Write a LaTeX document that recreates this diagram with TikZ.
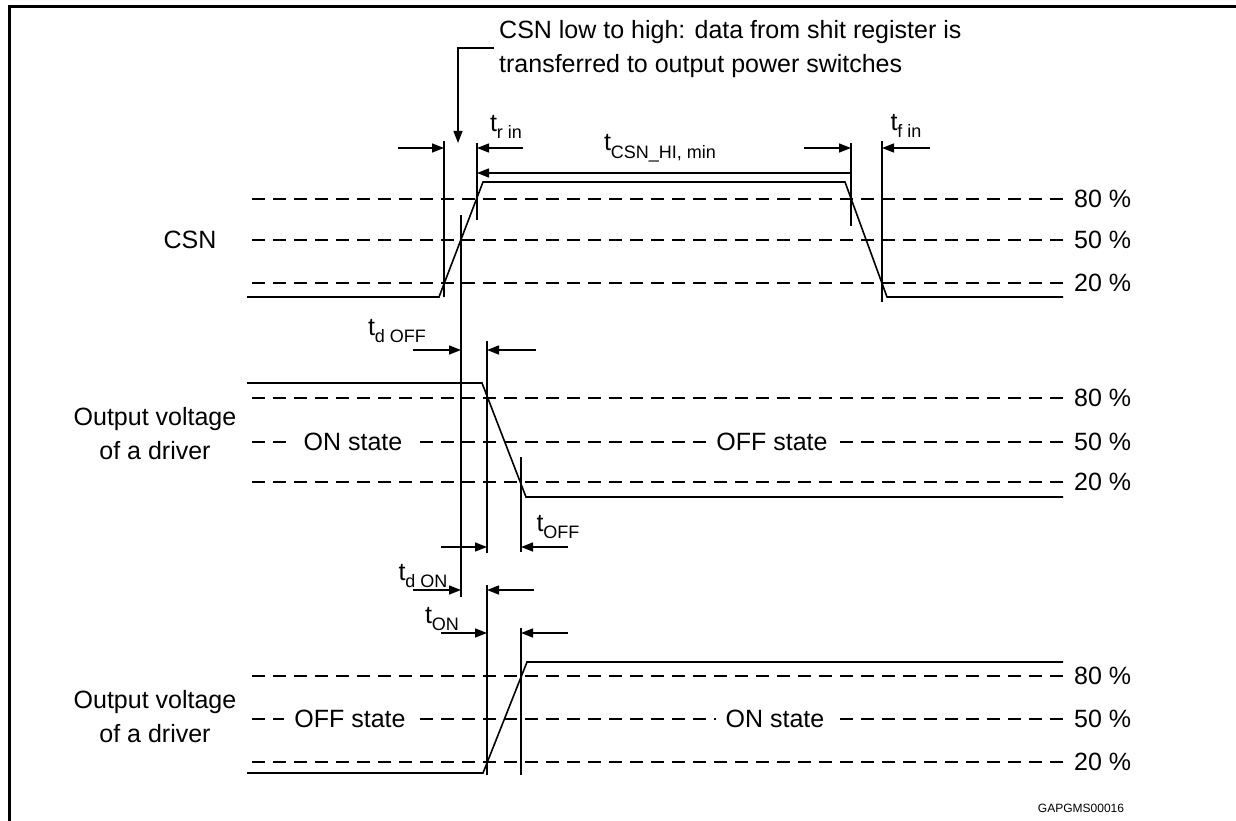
\documentclass[tikz,border=0pt]{standalone}
\usepackage{fontspec}
\setmainfont{Liberation Sans}
\usetikzlibrary{%
  arrows.meta,%
  calc%
}
\newcommand{\tsub}[2]{#1\raisebox{-0.3em}{\fontsize{18}{18}\selectfont #2}}

\begin{document}
\begin{tikzpicture}[x=1pt,y=-1pt,
  font=\fontsize{25}{34}\selectfont,
  wave/.style={line width=1.6pt},
  level/.style={line width=1.4pt,dash pattern=on 13pt off 8pt},
  edgeline/.style={line width=1.6pt},
  tip/.style={-{Triangle[length=12pt,width=9pt]},line width=1.4pt},
  pct/.style={anchor=west,inner sep=0pt},
  lbl/.style={inner sep=0pt},
  state/.style={fill=white,inner xsep=10pt,inner ysep=4pt}]
\useasboundingbox (0,0) rectangle (1236,821);

% frame
\draw[line width=3pt] (9,821) -- (9,7) -- (1236,7);

% threshold levels
\foreach \y/\p in {199/80,240/50,283/20,398/80,442/50,482/20,676/80,719/50,762/20}
  {\draw[level] (252,\y) -- (1063,\y);
   \node[pct] (p\y) at (1074,\y) {\p\ \%};}

% waveforms
\draw[wave] (247,297) -- (439,297) -- (483,182) -- (845,182) -- (887,297) -- (1063,297);
\draw[wave] (247,383) -- (482,383) -- (526,497) -- (1063,497);
\draw[wave] (247,773) -- (483,773) -- (527,662) -- (1063,662);

% signal names and states
\node[lbl] (csn) at (190,240) {CSN};
\node[lbl,align=center] (out1) at (155,434) {Output voltage\\of a driver};
\node[lbl,align=center] (out2) at (155,717) {Output voltage\\of a driver};
\node[state] (on1) at (353,442) {ON state};
\node[state] (off1) at (772,442) {OFF state};
\node[state] (off2) at (350,719) {OFF state};
\node[state] (on2) at (775,719) {ON state};

% timing marks
\foreach \n/\x/\a/\b in {r20/444/141/297, r80/477/143/220, mid/461/215/597,
    f80/851/143/226, f20/882/141/302, off80/487/341/553, off20/521/457/552,
    on20/487/585/775, on80/521/628/775}
  {\coordinate (\n t) at (\x,\a);
   \coordinate (\n b) at (\x,\b);
   \draw[edgeline] (\n t) -- (\n b);}

\foreach \n/\x/\y in {r20/398/148, r80/523/148, f80/804/148, f20/930/148,
    mid/413/350, off80/536/350, off80/441/547, off20/568/547,
    mid/413/590, on20/534/590, on20/441/633, on80/568/633}
  {\coordinate (tail) at (\x,\y);
   \draw[tip] (tail) -- (\n t |- tail);}

\coordinate (hi) at (660,173);
\draw[tip,{Triangle[length=12pt,width=9pt]}-] (r80t |- hi) -- (f80t |- hi);

% timing labels
\node[lbl] (trin) at (506,127) {\tsub{t}{r in}};
\node[lbl] (tfin) at (906,126) {\tsub{t}{f in}};
\node[lbl] (tcsn) at (660,148) {\tsub{t}{CSN\_HI, min}};
\node[lbl] (tdoff) at (397,331) {\tsub{t}{d OFF}};
\node[lbl] (toff) at (558,527) {\tsub{t}{OFF}};
\node[lbl] (tdon) at (423,576) {\tsub{t}{d ON}};
\node[lbl] (ton) at (442,619) {\tsub{t}{ON}};

% note
\node[lbl,anchor=west,align=left] (note) at (499,49)
  {CSN low to high: data from shit register is\\transferred to output power switches};
\coordinate (lead) at (494,48);
\coordinate (leadend) at (458,143);
\draw[tip] (lead) -| (leadend);

\node[lbl,font=\fontsize{12}{14}\selectfont] (code) at (1081,808) {GAPGMS00016};
\end{tikzpicture}
\end{document}
